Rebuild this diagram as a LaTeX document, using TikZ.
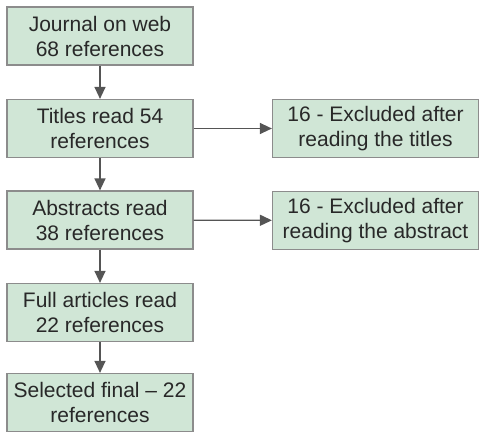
\documentclass[tikz,border=0pt]{standalone}
\usepackage{fontspec}
\setmainfont{Liberation Sans}
\usetikzlibrary{arrows.meta}
\definecolor{boxfill}{RGB}{208,230,214}
\definecolor{boxline}{RGB}{140,140,140}
\definecolor{arr}{RGB}{85,85,85}
\definecolor{txt}{RGB}{40,40,40}
\begin{document}
\begin{tikzpicture}[x=1pt,y=-1pt,
  box/.style={draw=boxline, fill=boxfill, line width=1.2pt, minimum height=58pt, align=center, inner sep=0pt,
    text=txt, font=\fontsize{21}{25}\selectfont},
  lbox/.style={box, minimum width=186pt},
  rbox/.style={box, minimum width=206pt},
  conn/.style={draw=arr, line width=1.3pt, -{Triangle[length=12pt,width=11pt]}}]
\useasboundingbox (0,0) rectangle (480,432);
\node[lbox] (a) at (100,36) {Journal on web\\68 references};
\node[lbox] (b) at (100,128.5) {Titles read 54\\references};
\node[lbox] (c) at (100,220) {Abstracts read\\38 references};
\node[lbox] (d) at (100,312.5) {Full articles read\\22 references};
\node[lbox] (e) at (100,402.5) {Selected final -- 22\\references};
\node[rbox] (f) at (375.5,128.5) {16 - Excluded after\\reading the titles};
\node[rbox] (g) at (375.5,220.5) {16 - Excluded after\\reading the abstract};
\draw[conn] (a) -- (b);
\draw[conn] (b) -- (c);
\draw[conn] (c) -- (d);
\draw[conn] (d) -- (e);
\draw[conn] (b) -- (f);
\draw[conn] (c) -- (g);
\end{tikzpicture}
\end{document}
